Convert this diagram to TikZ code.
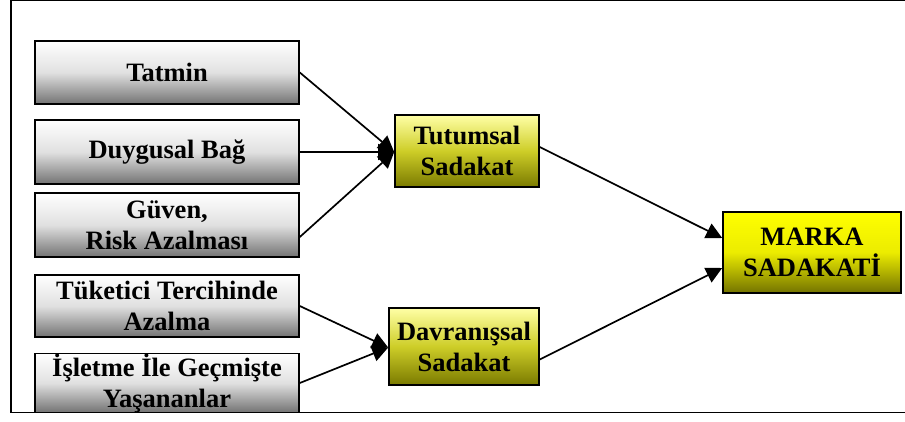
\documentclass[tikz,border=0pt]{standalone}
\usepackage{fontspec}
\setmainfont{Liberation Serif}
\usetikzlibrary{arrows.meta,calc}
\begin{document}
\begin{tikzpicture}[x=1pt,y=-1pt,
  box/.style={draw=black,line width=1.6pt,inner sep=0pt,align=center,
    font=\fontsize{26.5}{31}\selectfont\bfseries},
  factor/.style={box,top color=white,bottom color=black!55,middle color=black!12,
    minimum width=264pt},
  loyal/.style={box,top color=yellow!35,bottom color=olive!70!black!80,
    middle color=yellow!40!olive!65},
  brand/.style={box,top color=yellow,bottom color=olive!90!black,middle color=yellow!85!olive},
  link/.style={line width=1.7pt,-{Triangle[length=16pt,width=16pt]}},
  frame/.style={line width=1.8pt}]
\useasboundingbox (0,0) rectangle (905,421);
% outer frame (open on the right)
\draw[line width=1.2pt] (905,0.8) -- (11,0.8);
\draw[frame] (11,0) -- (11,412.5) -- (905,412.5);

% antecedent factors
\node[factor,minimum height=63pt] (tat) at (167,72.5) {Tatmin};
\node[factor,minimum height=64pt] (duy) at (167,152) {Duygusal Bağ};
\node[factor,minimum height=64pt] (guv) at (167,225) {Güven,\\Risk Azalması};
\node[factor,minimum height=62pt] (tuk) at (167,306) {Tüketici Tercihinde\\Azalma};
\node[factor,minimum height=58pt] (isl) at (167,383) {İşletme İle Geçmişte\\Yaşananlar};

% loyalty types
\node[loyal,minimum width=144pt,minimum height=72pt] (tut) at (467,151) {Tutumsal\\Sadakat};
\node[loyal,minimum width=150pt,minimum height=77pt] (dav) at (464,346.5) {Davranışsal\\Sadakat};

% brand loyalty
\node[brand,minimum width=178pt,minimum height=81pt] (mar) at (812,252.5) {MARKA\\SADAKATİ};

% connectors
\coordinate (tutin) at ($(tut.west)+(0,1)$);
\coordinate (davin) at ($(dav.west)+(0,1)$);
\draw[link] (tat.east) -- (tutin);
\draw[link] (duy.east) -- (tutin);
\draw[link] ($(guv.east)+(0,12)$) -- (tutin);
\draw[link] (tuk.east) -- (davin);
\draw[link] (isl.east) -- (davin);
\draw[link] ($(tut.east)+(0,-4)$) -- ($(mar.west)+(0,-14.5)$);
\draw[link] ($(dav.east)+(0,13)$) -- ($(mar.west)+(0,15.5)$);
\end{tikzpicture}
\end{document}
